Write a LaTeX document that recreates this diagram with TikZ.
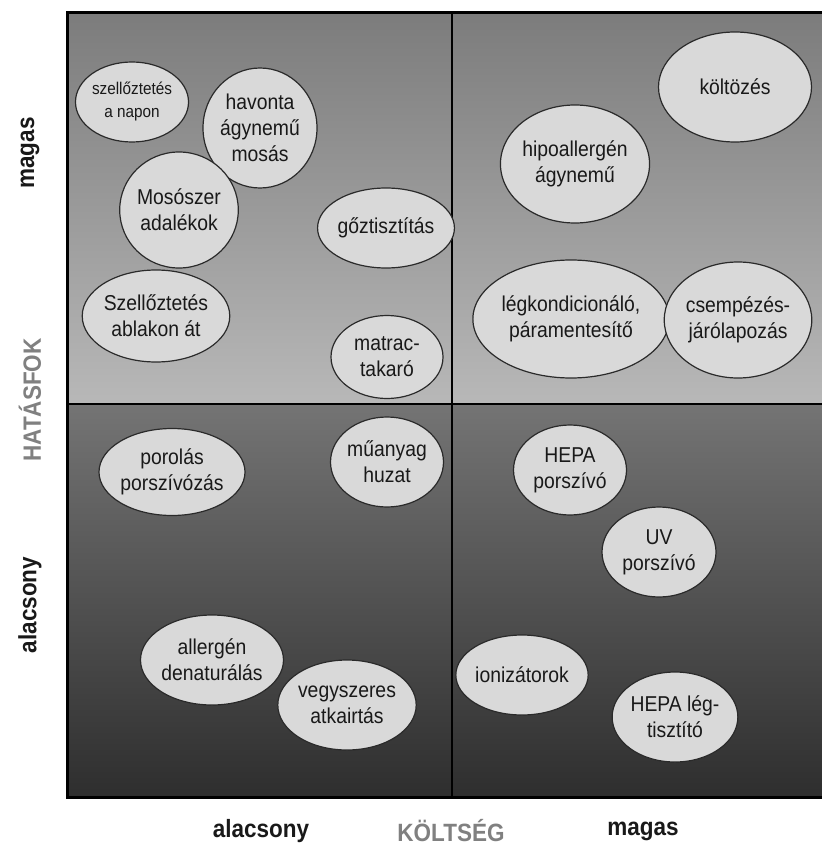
\documentclass[tikz,border=0pt]{standalone}
\usepackage{fontspec}
\setmainfont{Liberation Sans}[FakeStretch=0.9]
\usetikzlibrary{shapes.geometric}
\definecolor{bubfill}{HTML}{D9D9D9}
\definecolor{bubline}{HTML}{2A2A2A}
\definecolor{axisgray}{HTML}{808080}
\definecolor{tqtop}{HTML}{7C7C7C}
\definecolor{tqbot}{HTML}{B8B8B8}
\definecolor{bqtop}{HTML}{747474}
\definecolor{bqbot}{HTML}{2E2E2E}
\tikzset{
  bub/.style={ellipse, draw=bubline, line width=1.2pt, fill=bubfill, inner sep=0pt,
    align=center, font=\fontsize{21.5}{26}\selectfont, text=black!90},
  axlab/.style={font=\bfseries\fontsize{25}{28}\selectfont, text=black!90},
  axtitle/.style={font=\bfseries\fontsize{25}{28}\selectfont, text=axisgray},
}
\begin{document}
\begin{tikzpicture}[x=1pt,y=-1pt]
\useasboundingbox (0,0) rectangle (821,850);
% quadrant shadings
\shade[top color=tqtop, bottom color=tqbot] (67,13) rectangle (452,404);
\shade[top color=tqtop, bottom color=tqbot] (452,13) rectangle (826,404);
\shade[top color=bqtop, bottom color=bqbot] (67,404) rectangle (452,797);
\shade[top color=bqtop, bottom color=bqbot] (452,404) rectangle (826,797);
% frame and dividers
\draw[line width=3pt, black] (67,13) rectangle (826,797);
\coordinate (vt) at (452,13);
\coordinate (vb) at (452,797);
\coordinate (hl) at (67,404);
\coordinate (hr) at (826,404);
\draw[line width=2.5pt, black] (vt) -- (vb);
\draw[line width=2.5pt, black] (hl) -- (hr);
% top-left
\node[bub, minimum width=111pt, minimum height=80pt, font=\fontsize{17}{23}\selectfont] (n1) at (132,102) {szellőztetés\\a napon};
\node[bub, minimum width=114pt, minimum height=120pt] (n2) at (260,128) {havonta\\ágynemű\\mosás};
\node[bub, minimum width=112pt, minimum height=116pt] (n3) at (179,210) {Mosószer\\adalékok};
\node[bub, minimum width=113pt, minimum height=80pt] (n4) at (386,228) {gőztisztítás};
\node[bub, minimum width=128pt, minimum height=92pt] (n5) at (156,316) {Szellőztetés\\ablakon át};
\node[bub, minimum width=112pt, minimum height=83pt] (n6) at (387,357) {matrac-\\takaró};
% top-right
\node[bub, minimum width=153pt, minimum height=110pt] (n7) at (735,87) {költözés};
\node[bub, minimum width=136pt, minimum height=118pt] (n8) at (575,164) {hipoallergén\\ágynemű};
\node[bub, minimum width=175pt, minimum height=118pt] (n9) at (571,319) {légkondicionáló,\\páramentesítő};
\node[bub, minimum width=127pt, minimum height=116pt] (n10) at (738,320) {csempézés-\\járólapozás};
% bottom-left
\node[bub, minimum width=129pt, minimum height=87pt] (n11) at (172,472) {porolás\\porszívózás};
\node[bub, minimum width=113pt, minimum height=90pt] (n12) at (387,462) {műanyag\\huzat};
\node[bub, minimum width=129pt, minimum height=90pt] (n13) at (212,660) {allergén\\denaturálás};
\node[bub, minimum width=129pt, minimum height=90pt] (n14) at (347,705) {vegyszeres\\atkairtás};
% bottom-right
\node[bub, minimum width=113pt, minimum height=90pt] (n15) at (570,470) {HEPA\\porszívó};
\node[bub, minimum width=114pt, minimum height=90pt] (n16) at (659,552) {UV\\porszívó};
\node[bub, minimum width=112pt, minimum height=80pt] (n17) at (522,675) {ionizátorok};
\node[bub, minimum width=111pt, minimum height=90pt] (n18) at (675,717) {HEPA lég-\\tisztító};
% axis labels
\node[axlab, rotate=90] (ymag) at (30,153) {magas};
\node[axtitle, rotate=90] (ytit) at (30,400) {HATÁSFOK};
\node[axlab, rotate=90] (yala) at (30,605) {alacsony};
\node[axlab] (xala) at (261,831) {alacsony};
\node[axtitle] (xtit) at (451,831) {KÖLTSÉG};
\node[axlab] (xmag) at (643,831) {magas};
\end{tikzpicture}
\end{document}
